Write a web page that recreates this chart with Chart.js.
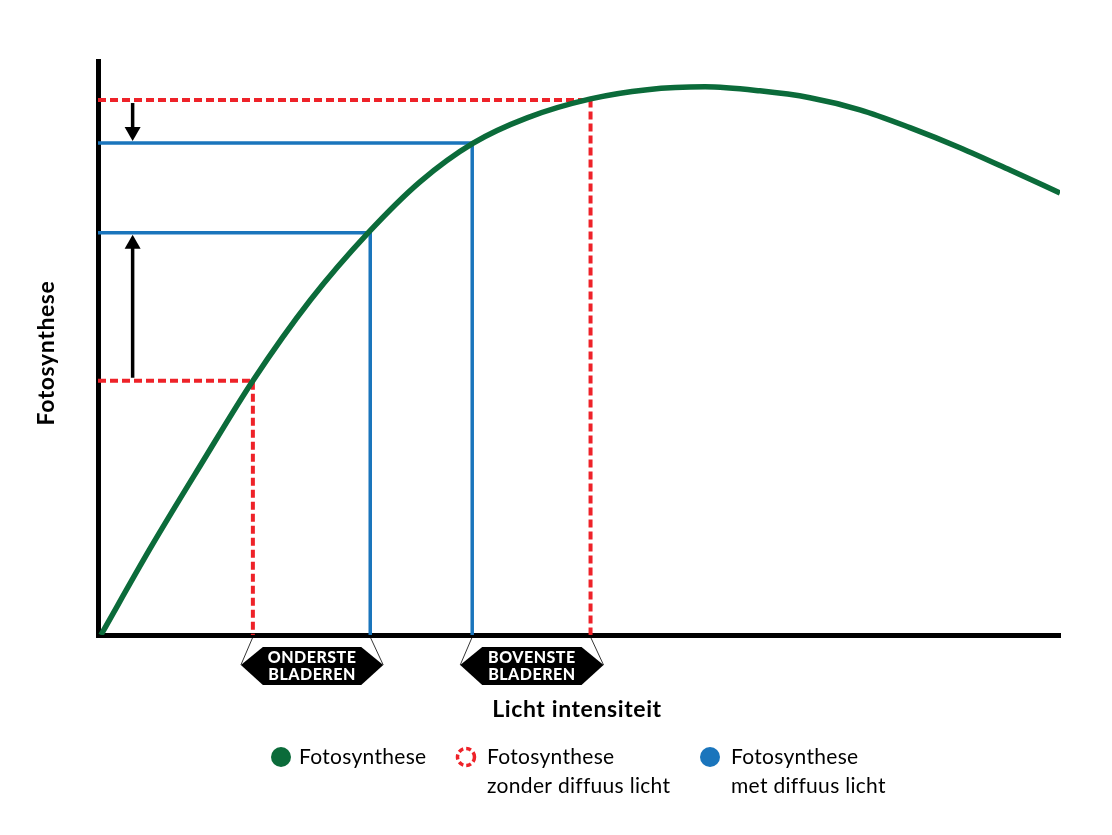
<!DOCTYPE html>
<html lang="nl">
<head>
<meta charset="UTF-8">
<title>Fotosynthese en lichtintensiteit</title>
<script src="https://cdn.jsdelivr.net/npm/chart.js"></script>
<style>
  body { margin: 0; background: #fff; }
  #wrap { width: 1112px; height: 835px; }
</style>
</head>
<body>
<div id="wrap"><canvas id="fotoGrafiek"></canvas></div>
<script>
// curve values (licht intensiteit 0-100, fotosynthese 0-100)
var curveX = [0.3, 5.5, 10.7, 16.1, 22.1, 28.1, 33.5, 39.0, 44.6, 51.2, 57.1, 63.1, 68.8, 74.0, 79.2, 84.4, 89.6, 94.8, 100];
var curveY = [0, 15.3, 29.7, 44.3, 58.4, 70.1, 79.0, 85.7, 90.1, 93.4, 95.0, 95.5, 94.8, 93.6, 91.5, 88.4, 84.9, 81.0, 77.0];

// zonder diffuus licht (rood) en met diffuus licht (blauw): [bovenste, onderste]
var redX = [51.2, 16.1];
var redY = [93.2, 44.3];
var blueX = [38.9, 28.3];
var blueY = [85.7, 70.1];
var arrowX = 3.6;

var groepLabels = [['ONDERSTE', 'BLADEREN'], ['BOVENSTE', 'BLADEREN']];
var legendTexts = [['Fotosynthese'], ['Fotosynthese', 'zonder diffuus licht'], ['Fotosynthese', 'met diffuus licht']];

var groen = '#0b6b3a';
var rood = '#ee2229';
var blauw = '#1a75bc';

function hoekLijn(x, y) {
    return [{ x: 0, y: y }, { x: x, y: y }, { x: x, y: 0 }];
}

var datasets = [{
    label: 'Fotosynthese',
    data: curveX.map(function (x, i) { return { x: x, y: curveY[i] }; }),
    borderColor: groen,
    borderWidth: 5.5,
    cubicInterpolationMode: 'monotone',
    order: 0
}];
for (var i = 0; i < redX.length; i++) {
    datasets.push({
        label: 'zonder ' + i,
        data: hoekLijn(redX[i], redY[i]),
        borderColor: rood,
        borderWidth: 4,
        borderDash: [8, 4],
        tension: 0,
        order: 2
    });
    datasets.push({
        label: 'met ' + i,
        data: hoekLijn(blueX[i], blueY[i]),
        borderColor: blauw,
        borderWidth: 3.5,
        tension: 0,
        order: 1
    });
}

var extraPlugin = {
    id: 'extra',
    afterDatasetsDraw: function (chart) {
        var ctx = chart.ctx;
        var xs = chart.scales.x, ys = chart.scales.y;
        var basis = ys.getPixelForValue(0);
        ctx.save();

        // pijlen van rood naar blauw
        var ax = xs.getPixelForValue(arrowX);
        for (var i = 0; i < redY.length; i++) {
            var y0 = ys.getPixelForValue(redY[i]);
            var y1 = ys.getPixelForValue(blueY[i]);
            var dir = y1 > y0 ? 1 : -1;
            ctx.strokeStyle = '#000';
            ctx.fillStyle = '#000';
            ctx.lineWidth = 3.5;
            ctx.beginPath();
            ctx.moveTo(ax, y0 + dir * 3);
            ctx.lineTo(ax, y1 - dir * 14);
            ctx.stroke();
            ctx.beginPath();
            ctx.moveTo(ax - 8, y1 - dir * 16);
            ctx.lineTo(ax + 8, y1 - dir * 16);
            ctx.lineTo(ax, y1 - dir * 2);
            ctx.closePath();
            ctx.fill();
        }

        // zeshoeken onder de as
        var paren = [[redX[1], blueX[1]], [blueX[0], redX[0]]];
        paren.forEach(function (p, k) {
            var l = xs.getPixelForValue(p[0]);
            var r = xs.getPixelForValue(p[1]);
            var lt = l - 12, rt = r + 13, top = 647, bot = 685, mid = 665;
            ctx.strokeStyle = '#000';
            ctx.lineWidth = 0.8;
            ctx.beginPath();
            ctx.moveTo(l, basis + 2); ctx.lineTo(lt, mid);
            ctx.moveTo(r, basis + 2); ctx.lineTo(rt, mid);
            ctx.stroke();
            ctx.fillStyle = '#000';
            ctx.beginPath();
            ctx.moveTo(lt, mid);
            ctx.lineTo(lt + 22, top);
            ctx.lineTo(rt - 22, top);
            ctx.lineTo(rt, mid);
            ctx.lineTo(rt - 22, bot);
            ctx.lineTo(lt + 22, bot);
            ctx.closePath();
            ctx.fill();
            ctx.fillStyle = '#fff';
            ctx.font = '900 16px Lato';
            ctx.letterSpacing = '0.5px';
            ctx.textAlign = 'center';
            ctx.textBaseline = 'middle';
            ctx.fillText(groepLabels[k][0], (lt + rt) / 2, 658);
            ctx.fillText(groepLabels[k][1], (lt + rt) / 2, 675);
        });

        // astitels
        ctx.fillStyle = '#000';
        ctx.font = 'bold 23px Lato';
        ctx.letterSpacing = '0.6px';
        ctx.textAlign = 'center';
        ctx.textBaseline = 'middle';
        ctx.fillText('Licht intensiteit', 577, 710);
        ctx.save();
        ctx.translate(47, 353);
        ctx.rotate(-Math.PI / 2);
        ctx.fillText('Fotosynthese', 0, 0);
        ctx.restore();

        // legenda
        var lx = [281, 466, 710];
        var tx = [18, 21, 21];
        var kleuren = [groen, rood, blauw];
        ctx.font = '21px Lato';
        ctx.letterSpacing = '0.3px';
        ctx.textAlign = 'left';
        for (var j = 0; j < 3; j++) {
            ctx.beginPath();
            ctx.arc(lx[j], 757, j === 1 ? 8.5 : 10, 0, Math.PI * 2);
            if (j === 1) {
                ctx.strokeStyle = rood;
                ctx.lineWidth = 3.5;
                ctx.setLineDash([5, 3]);
                ctx.stroke();
                ctx.setLineDash([]);
            } else {
                ctx.fillStyle = kleuren[j];
                ctx.fill();
            }
            ctx.fillStyle = '#000';
            legendTexts[j].forEach(function (t, n) {
                ctx.fillText(t, lx[j] + tx[j], 757 + n * 29);
            });
        }
        ctx.restore();
    }
};

new Chart(document.getElementById('fotoGrafiek'), {
    type: 'line',
    data: { datasets: datasets },
    options: {
        responsive: true,
        maintainAspectRatio: false,
        animation: false,
        layout: { padding: { left: 90, right: 52, top: 61, bottom: 192 } },
        elements: { point: { radius: 0 } },
        plugins: { legend: { display: false }, tooltip: { enabled: false } },
        scales: {
            x: {
                type: 'linear', min: 0, max: 100,
                grid: { display: false },
                ticks: { display: false },
                border: { color: '#000', width: 5 }
            },
            y: {
                min: 0, max: 100,
                grid: { display: false },
                ticks: { display: false },
                border: { color: '#000', width: 5 }
            }
        }
    },
    plugins: [extraPlugin]
});
</script>
</body>
</html>
